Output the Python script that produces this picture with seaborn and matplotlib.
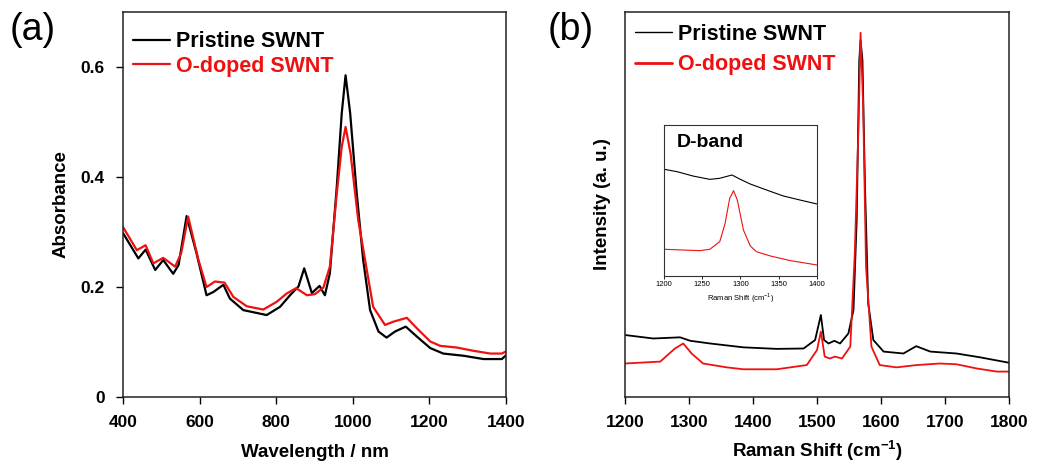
import numpy as np
import pandas as pd
import seaborn as sns
import matplotlib
matplotlib.use("Agg")
import matplotlib.pyplot as plt
from matplotlib.lines import Line2D

# (a) UV-vis-NIR absorbance
abs_nm_pristine = [400, 440, 459, 484, 505, 531, 545, 566, 592, 618, 636, 662, 679, 714, 775, 810, 836,
                   858, 873, 893, 913, 927, 940, 958, 971, 981, 993, 1010, 1027, 1045, 1067, 1088, 1110,
                   1138, 1167, 1202, 1236, 1289, 1341, 1389, 1400]
abs_pristine = [0.298, 0.252, 0.268, 0.231, 0.249, 0.224, 0.240, 0.329, 0.261, 0.185, 0.191, 0.204, 0.179,
                0.158, 0.149, 0.164, 0.185, 0.201, 0.234, 0.189, 0.202, 0.185, 0.225, 0.382, 0.516, 0.585,
                0.516, 0.371, 0.249, 0.158, 0.119, 0.108, 0.119, 0.128, 0.110, 0.089, 0.079, 0.075, 0.069,
                0.069, 0.076]
abs_nm_doped = [400, 436, 459, 479, 505, 536, 552, 570, 597, 618, 640, 665, 688, 723, 766, 801, 827, 852,
                880, 901, 923, 940, 958, 971, 981, 994, 1014, 1032, 1053, 1084, 1106, 1141, 1167, 1202,
                1228, 1271, 1315, 1359, 1389, 1400]
abs_doped = [0.309, 0.267, 0.276, 0.243, 0.253, 0.237, 0.262, 0.328, 0.249, 0.200, 0.210, 0.208, 0.182,
             0.165, 0.159, 0.173, 0.188, 0.198, 0.185, 0.187, 0.199, 0.237, 0.370, 0.455, 0.491, 0.443,
             0.322, 0.249, 0.164, 0.131, 0.137, 0.144, 0.125, 0.101, 0.093, 0.090, 0.084, 0.079, 0.079,
             0.083]

# (b) Raman spectra (arbitrary units)
raman_x_pristine = [1200, 1244, 1286, 1302, 1333, 1385, 1437, 1479, 1497, 1506, 1511, 1518, 1527, 1536,
                    1549, 1557, 1562, 1566, 1568, 1571, 1575, 1580, 1588, 1604, 1635, 1655, 1677, 1718,
                    1755, 1800]
raman_pristine = [16.1, 15.2, 15.5, 14.6, 13.9, 12.9, 12.5, 12.6, 14.8, 21.3, 14.8, 13.9, 14.6, 13.9,
                  16.5, 22.6, 46.0, 87.5, 92.7, 87.5, 54.6, 24.3, 14.8, 11.8, 11.3, 13.2, 11.8, 11.3,
                  10.3, 8.9]
raman_x_doped = [1200, 1255, 1278, 1291, 1304, 1322, 1359, 1385, 1437, 1484, 1500, 1506, 1512, 1520,
                 1528, 1539, 1552, 1559, 1565, 1568, 1572, 1576.6, 1585, 1598, 1624, 1656, 1692, 1718,
                 1750, 1781, 1800]
raman_doped = [8.7, 9.2, 12.6, 13.9, 11.3, 8.7, 7.7, 7.2, 7.2, 8.3, 12.2, 17.0, 10.5, 10.0, 10.5, 10.0,
               13.1, 37.3, 71.1, 94.6, 76.3, 33.8, 13.1, 8.3, 7.7, 8.3, 8.7, 8.5, 7.4, 6.6, 6.6]

# inset: D-band region
d_x_pristine = [1200, 1217, 1238, 1260, 1273, 1289, 1300, 1313, 1334, 1356, 1378, 1400]
d_pristine = [0.706, 0.690, 0.661, 0.639, 0.646, 0.668, 0.639, 0.608, 0.569, 0.529, 0.502, 0.476]
d_x_doped = [1200, 1225, 1247, 1260, 1273, 1280, 1286, 1291, 1296, 1304, 1313, 1321, 1339, 1365, 1387, 1400]
d_doped = [0.175, 0.170, 0.166, 0.175, 0.226, 0.347, 0.513, 0.564, 0.502, 0.303, 0.197, 0.159, 0.131,
           0.100, 0.082, 0.071]

labels = ["Pristine SWNT", "O-doped SWNT"]
colors = ["black", "#ee1111"]

sns.set_style("ticks")
plt.rcParams['font.family'] = ['Liberation Sans', 'DejaVu Sans']
plt.rcParams['mathtext.fontset'] = 'custom'
plt.rcParams['mathtext.bf'] = 'Liberation Sans:bold'
plt.rcParams['mathtext.rm'] = 'Liberation Sans'
for key in ['text.color', 'axes.labelcolor', 'xtick.color', 'ytick.color', 'axes.edgecolor']:
    plt.rcParams[key] = 'black'

fig = plt.figure(figsize=(10.4, 4.68), dpi=100)
ax1 = fig.add_axes([0.1183, 0.1517, 0.3683, 0.8226])
ax2 = fig.add_axes([0.6010, 0.1517, 0.3692, 0.8226])
ax3 = fig.add_axes([0.6385, 0.4110, 0.1468, 0.3220])


def curve(ax, x, y, color, lw):
    df = pd.DataFrame({"x": x, "y": y})
    sns.lineplot(data=df, x="x", y="y", ax=ax, color=color, lw=lw, sort=False, estimator=None)


# panel (a)
curve(ax1, abs_nm_pristine, abs_pristine, colors[0], 1.6)
curve(ax1, abs_nm_doped, abs_doped, colors[1], 1.6)
ax1.set_xlim(400, 1400)
ax1.set_ylim(0, 0.7)
ax1.set_xticks([400, 600, 800, 1000, 1200, 1400])
ax1.set_yticks([0, 0.2, 0.4, 0.6], ["0", "0.2", "0.4", "0.6"])
ax1.set_xlabel("Wavelength / nm", fontsize=13.5, fontweight="bold", labelpad=10)
ax1.set_ylabel("Absorbance", fontsize=13.5, fontweight="bold", labelpad=8)

# panel (b)
curve(ax2, raman_x_pristine, raman_pristine, colors[0], 1.3)
curve(ax2, raman_x_doped, raman_doped, colors[1], 1.3)
ax2.set_xlim(1200, 1800)
ax2.set_ylim(0, 100)
ax2.set_xticks([1200, 1300, 1400, 1500, 1600, 1700, 1800])
ax2.set_yticks([])
ax2.set_xlabel(r"Raman Shift (cm$^{\mathbf{-1}}$)", fontsize=13.5, fontweight="bold", labelpad=6)
ax2.set_ylabel("Intensity (a. u.)", fontsize=13.5, fontweight="bold", labelpad=10)

for ax in (ax1, ax2):
    ax.tick_params(direction="out", length=5, width=1, labelsize=12.5, pad=8)
    for lab in ax.get_xticklabels() + ax.get_yticklabels():
        lab.set_fontweight("bold")
    for sp in ax.spines.values():
        sp.set_linewidth(1.1)
        sp.set_color("#222222")
        sp.set_visible(True)

# inset
curve(ax3, d_x_pristine, d_pristine, colors[0], 0.8)
curve(ax3, d_x_doped, d_doped, colors[1], 0.8)
ax3.set_xlim(1200, 1400)
ax3.set_ylim(0, 1)
ax3.set_xticks([1200, 1250, 1300, 1350, 1400])
ax3.set_yticks([])
ax3.tick_params(direction="out", length=2, width=0.6, labelsize=5.5, pad=2)
ax3.set_xlabel(r"Raman Shift (cm$^{-1}$)", fontsize=5.5, labelpad=2)
ax3.set_ylabel("")
for sp in ax3.spines.values():
    sp.set_linewidth(0.8)
    sp.set_color("#333333")
ax3.text(0.08, 0.94, "D-band", transform=ax3.transAxes, fontsize=14, fontweight="bold", va="top")

# legends
handles = [Line2D([], [], color=c, lw=1.6) for c in colors]
leg1 = ax1.legend(handles, labels, loc="upper left", bbox_to_anchor=(0.025, 0.95), frameon=False,
                  prop={"size": 15.5, "weight": "bold"}, handlelength=1.75, handletextpad=0.25,
                  labelspacing=0.17, borderaxespad=0, borderpad=0)
leg1.get_texts()[1].set_color(colors[1])
handles2 = [Line2D([], [], color=colors[0], lw=1.0), Line2D([], [], color=colors[1], lw=2.0)]
leg2 = ax2.legend(handles2, labels, loc="upper left", bbox_to_anchor=(0.025, 0.97), frameon=False,
                  prop={"size": 15.5, "weight": "bold"}, handlelength=1.75, handletextpad=0.25,
                  labelspacing=0.45, borderaxespad=0, borderpad=0)
leg2.get_texts()[1].set_color(colors[1])

fig.text(10 / 1040, 1 - 30 / 468, "(a)", fontsize=27, va="center", ha="left")
fig.text(548 / 1040, 1 - 30 / 468, "(b)", fontsize=27, va="center", ha="left")

fig.savefig("out.png", dpi=100)
